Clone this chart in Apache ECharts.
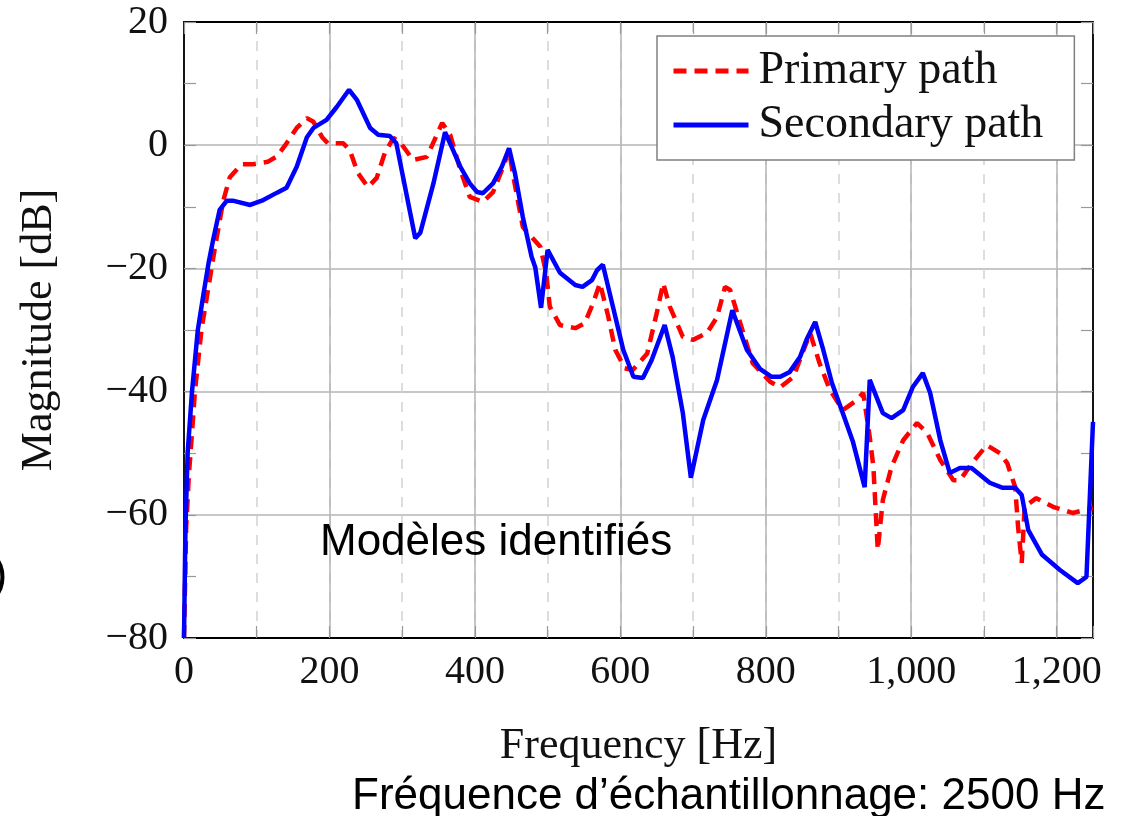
<!DOCTYPE html>
<html>
<head>
<meta charset="utf-8">
<title>Primary / Secondary path</title>
<script src="https://cdn.jsdelivr.net/npm/echarts@6/dist/echarts.min.js"></script>
<style>
  html, body { margin: 0; padding: 0; background: #fff; }
  #chart { width: 1128px; height: 816px; }
</style>
</head>
<body>
<div id="chart"></div>
<script>
// [frequency Hz, magnitude dB]
const primaryPath = [
  [0, -80], [3, -62], [7, -53], [9, -50], [15, -40], [24, -30], [42, -17], [54, -9],
  [63, -5.2], [79, -3.1], [95, -3.1], [115, -2.7], [128, -1.8], [141, 0.3], [155, 2.8],
  [169, 4.4], [178, 3.8], [190, 1.3], [198, 0.3], [219, 0.3], [228, -0.8], [239, -4.5],
  [253, -6.8], [265, -5.3], [276, -1.3], [288, 1.2], [297, 0.5], [315, -2.4], [334, -1.9],
  [355, 3.6], [366, 1.7], [380, -4.0], [393, -8.4], [411, -9.2], [425, -7.6], [439, -3.5],
  [447, -0.8], [453, -5.2], [466, -13.3], [490, -16.5], [498, -20.7], [503, -26.2],
  [517, -29.2], [538, -29.7], [551, -28.9], [563, -25.5], [572, -22.4], [583, -27.6],
  [593, -33.2], [606, -36.2], [617, -36.5], [637, -33.8], [650, -27.3], [659, -22.4],
  [668, -26.2], [686, -31.1], [700, -31.6], [719, -30.5], [733, -27.9], [744, -23.0],
  [751, -23.5], [765, -28.9], [782, -35.4], [806, -38.4], [820, -39.3], [838, -37.6],
  [861, -30.5], [874, -35.4], [888, -39.7], [906, -43.0], [925, -41.4], [934, -40.2],
  [943, -47.4], [948, -52.2], [954, -65.7], [961, -57.6], [973, -52.2], [989, -47.9],
  [1008, -45.1], [1022, -46.7], [1040, -51.1], [1058, -54.4], [1067, -54.4], [1085, -51.4],
  [1104, -48.7], [1122, -50.0], [1132, -51.6], [1143, -55.5], [1147, -62.0], [1152, -67.8],
  [1156, -58.7], [1172, -57.3], [1195, -58.7], [1222, -59.7], [1250, -58.9]
];

const secondaryPath = [
  [0, -80], [2, -62], [5, -50], [11, -40], [19, -30], [27, -24], [34, -19], [40, -15.4],
  [49, -10.5], [59, -9.0], [67, -9.0], [91, -9.7], [109, -8.9], [128, -7.7], [141, -6.9],
  [155, -3.5], [169, 1.3], [178, 2.8], [196, 4.1], [210, 6.2], [227, 9.0], [238, 7.3],
  [256, 2.8], [267, 1.7], [283, 1.5], [292, 0.3], [318, -15.1], [325, -14.2], [343, -6.2],
  [359, 2.1], [370, -0.8], [380, -3.5], [393, -6.2], [403, -7.6], [411, -7.8], [425, -6.2],
  [437, -3.5], [447, -0.5], [455, -4.5], [466, -11.7], [478, -18.1], [483, -19.8],
  [491, -26.4], [500, -17.0], [517, -20.7], [538, -22.7], [548, -23.0], [561, -21.9],
  [568, -20.3], [576, -19.4], [590, -26.3], [604, -33.2], [618, -37.6], [631, -37.8],
  [643, -34.9], [661, -29.2], [672, -34.4], [686, -43.5], [697, -54.0], [714, -44.6],
  [733, -38.1], [754, -26.8], [774, -33.2], [792, -36.3], [808, -37.6], [820, -37.6],
  [833, -36.8], [847, -34.4], [856, -31.6], [868, -28.7], [879, -33.2], [891, -38.6],
  [906, -43.5], [920, -48.2], [936, -55.5], [943, -38.1], [961, -43.5], [973, -44.3],
  [989, -43.0], [1002, -39.3], [1016, -37.0], [1026, -40.2], [1040, -47.9], [1053, -53.2],
  [1067, -52.4], [1083, -52.4], [1108, -54.8], [1125, -55.6], [1143, -55.6], [1152, -56.8],
  [1161, -62.5], [1180, -66.5], [1205, -69.0], [1229, -71.1], [1241, -70.1], [1250, -44.9]
];

const seriesNames = ["Primary path", "Secondary path"];
const xRange = [0, 1250];
const yRange = [-80, 20];
const annotations = ["Modèles identifiés", "Fréquence d’échantillonnage: 2500 Hz", ")"];

const serif = "Liberation Serif";
const sans = "Liberation Sans";

function freqLabel(v) {
  if (v % 200 !== 0 || v > 1200) return "";
  return v >= 1000 ? Math.floor(v / 1000) + "," + String(v % 1000).padStart(3, "0") : String(v);
}

const tickStyle = { show: true, inside: true, length: 12, lineStyle: { color: "#999", width: 1.2 } };
const frameLine = { show: true, onZero: false, lineStyle: { color: "#000", width: 1.8 } };

const chart = echarts.init(document.getElementById("chart"));

const option = {
  animation: false,
  backgroundColor: "#fff",
  grid: { left: 184, top: 22, right: 35, bottom: 178, containLabel: false },
  legend: {
    orient: "vertical",
    left: 657,
    top: 36,
    padding: [12, 31, 12, 14],
    itemGap: 8,
    itemWidth: 75,
    itemHeight: 20,
    backgroundColor: "#fff",
    borderColor: "#808080",
    borderWidth: 1.5,
    borderRadius: 0,
    z: 10,
    data: seriesNames,
    itemStyle: { opacity: 0 },
    lineStyle: { width: 5 },
    textStyle: { fontFamily: serif, fontSize: 46, color: "#111", padding: [0, 0, 0, 5] },
  },
  xAxis: [
    {
      type: "value",
      min: xRange[0],
      max: xRange[1],
      interval: 100,
      position: "bottom",
      name: "Frequency [Hz]",
      nameLocation: "middle",
      nameGap: 86,
      nameTextStyle: { fontFamily: serif, fontSize: 44, color: "#111" },
      axisLine: frameLine,
      axisTick: tickStyle,
      axisLabel: {
        formatter: freqLabel,
        fontFamily: serif,
        fontSize: 40,
        color: "#111",
        margin: 14,
      },
      splitLine: { show: false },
    },
    {
      // top edge: ticks + dashed lines every 100 Hz
      type: "value",
      min: xRange[0],
      max: xRange[1],
      interval: 100,
      position: "top",
      axisLine: frameLine,
      axisTick: tickStyle,
      axisLabel: { show: false },
      splitLine: { show: true, lineStyle: { color: "#d2d2d2", width: 1.5, type: [10, 9] } },
    },
    {
      // solid lines every 200 Hz
      type: "value",
      min: xRange[0],
      max: xRange[1],
      interval: 200,
      position: "bottom",
      axisLine: { show: false },
      axisTick: { show: false },
      axisLabel: { show: false },
      splitLine: { show: true, lineStyle: { color: "#b4b4b4", width: 1.5 } },
    },
  ],
  yAxis: [
    {
      type: "value",
      min: yRange[0],
      max: yRange[1],
      interval: 20,
      position: "left",
      name: "Magnitude [dB]",
      nameLocation: "middle",
      nameGap: 123,
      nameTextStyle: { fontFamily: serif, fontSize: 44, color: "#111" },
      axisLine: frameLine,
      axisTick: tickStyle,
      minorTick: { show: true, splitNumber: 2, length: 12, lineStyle: { color: "#999", width: 1.2 } },
      axisLabel: {
        formatter: (v) => (v < 0 ? "\u2212" + Math.abs(v) : String(v)),
        fontFamily: serif,
        fontSize: 40,
        color: "#111",
        margin: 16,
      },
      splitLine: { show: true, lineStyle: { color: "#b4b4b4", width: 1.5 } },
    },
    {
      type: "value",
      min: yRange[0],
      max: yRange[1],
      interval: 20,
      position: "right",
      axisLine: frameLine,
      axisTick: tickStyle,
      minorTick: { show: true, splitNumber: 2, length: 12, lineStyle: { color: "#999", width: 1.2 } },
      axisLabel: { show: false },
      splitLine: { show: false },
    },
  ],
  series: [
    {
      name: seriesNames[0],
      type: "line",
      xAxisIndex: 0,
      yAxisIndex: 0,
      symbol: "none",
      data: primaryPath,
      lineStyle: { color: "#ff0000", width: 4.5, type: [13, 8] },
      itemStyle: { color: "#ff0000" },
      z: 3,
    },
    {
      name: seriesNames[1],
      type: "line",
      xAxisIndex: 0,
      yAxisIndex: 0,
      symbol: "none",
      data: secondaryPath,
      lineStyle: { color: "#0000ff", width: 4.5 },
      itemStyle: { color: "#0000ff" },
      z: 4,
    },
  ],
  graphic: [
    {
      type: "text",
      left: 320,
      top: 521,
      z: 20,
      style: { text: annotations[0], fontFamily: sans, fontSize: 44, fill: "#000" },
    },
    {
      type: "text",
      left: 352,
      top: 775,
      z: 20,
      style: { text: annotations[1], fontFamily: sans, fontSize: 44, fill: "#000" },
    },
    {
      type: "text",
      left: -8,
      top: 553,
      z: 20,
      style: { text: annotations[2], fontFamily: sans, fontSize: 46, fill: "#000" },
    },
  ],
};

chart.setOption(option);
</script>
</body>
</html>
